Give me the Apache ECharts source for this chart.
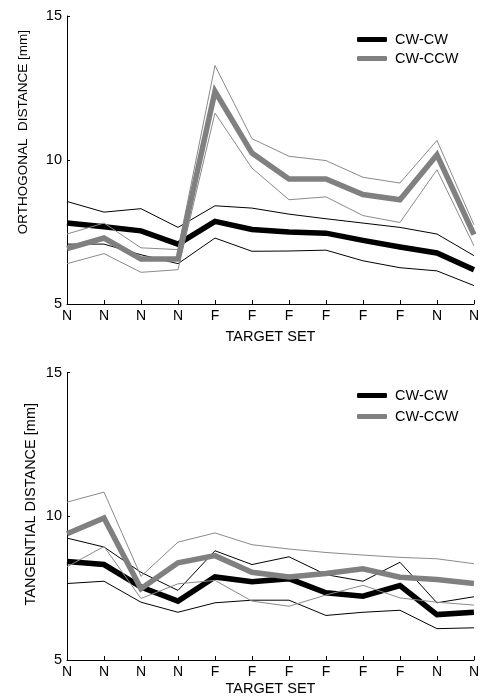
<!DOCTYPE html>
<html><head><meta charset="utf-8">
<script src="https://cdn.jsdelivr.net/npm/echarts@6/dist/echarts.min.js"></script>
<style>html,body{margin:0;padding:0;background:#fff}#c{width:482px;height:697px}</style>
</head><body><div id="c"></div>
<script>
const targetSet = ['N','N','N','N','F','F','F','F','F','F','N','N'];
const yTicks = [5, 10, 15];
const seriesNames = ['CW-CW', 'CW-CCW'];

const orthCwCwMean   = [7.81,7.68,7.54,7.08,7.87,7.59,7.50,7.46,7.21,6.98,6.77,6.19];
const orthCwCwUpper  = [8.56,8.19,8.31,7.66,8.41,8.33,8.12,7.96,7.81,7.66,7.43,6.68];
const orthCwCwLower  = [7.08,7.08,6.71,6.40,7.29,6.83,6.84,6.87,6.50,6.26,6.15,5.64];
const orthCwCcwMean  = [6.92,7.29,6.56,6.56,12.38,10.24,9.34,9.34,8.80,8.62,10.18,7.41];
const orthCwCcwUpper = [7.43,7.81,6.95,6.89,13.28,10.74,10.13,9.98,9.40,9.20,10.68,7.75];
const orthCwCcwLower = [6.40,6.75,6.10,6.19,11.63,9.72,8.62,8.72,8.07,7.83,9.66,7.02];

const tangCwCwMean   = [8.43,8.32,7.54,7.05,7.89,7.72,7.83,7.34,7.22,7.59,6.58,6.66];
const tangCwCwUpper  = [9.24,8.93,8.05,7.42,8.80,8.32,8.59,7.97,7.74,8.40,6.99,7.20];
const tangCwCwLower  = [7.66,7.74,7.01,6.66,6.99,7.08,7.08,6.55,6.66,6.73,6.09,6.12];
const tangCwCcwMean  = [9.39,9.94,7.48,8.38,8.63,8.05,7.89,8.01,8.17,7.88,7.80,7.66];
const tangCwCcwUpper = [10.49,10.84,7.91,9.10,9.42,9.01,8.86,8.74,8.65,8.57,8.52,8.35];
const tangCwCcwLower = [8.24,8.95,7.14,7.65,7.77,7.05,6.87,7.26,7.60,7.16,7.01,6.91];

const FONT = 'Liberation Sans, Arial, sans-serif';
const BLACK = '#000000';
const GREY = '#808080';
const GREY_THIN = '#8a8a8a';

function pts(arr){ return arr.map((v,i)=>[i,v]); }

function xAxis(gi, nameGap){
  return {
    type:'value', gridIndex:gi, min:0, max:targetSet.length-1, interval:1,
    axisLine:{show:true, lineStyle:{color:'#000', width:1}},
    axisTick:{show:true, inside:true, length:4, lineStyle:{color:'#000'}},
    axisLabel:{color:'#000', fontFamily:FONT, fontSize:14, margin:5,
      formatter:(v)=>targetSet[Math.round(v)] || ''},
    splitLine:{show:false},
    name:'TARGET SET', nameLocation:'middle', nameGap:nameGap,
    nameTextStyle:{color:'#000', fontFamily:FONT, fontSize:14.5}
  };
}
function yAxis(gi){
  return {
    type:'value', gridIndex:gi, min:yTicks[0], max:yTicks[yTicks.length-1], interval:5,
    axisLine:{show:true, lineStyle:{color:'#000', width:1}},
    axisTick:{show:true, inside:true, length:3, lineStyle:{color:'#000'}},
    axisLabel:{color:'#000', fontFamily:FONT, fontSize:14.5, margin:5},
    splitLine:{show:false}
  };
}
function line(name, data, gi, color, width, z){
  return {
    type:'line', name:name, xAxisIndex:gi, yAxisIndex:gi, data:pts(data),
    symbol:'none', silent:true, animation:false, z:z,
    lineStyle:{color:color, width:width, join:'miter'},
    itemStyle:{color:color}
  };
}

const chart = echarts.init(document.getElementById('c'), null, {renderer:'canvas'});
chart.setOption({
  backgroundColor:'#fff',
  animation:false,
  grid:[
    {left:67, right:5, top:16, height:288},
    {left:67, right:5, top:372.5, height:288}
  ],
  xAxis:[xAxis(0, 25), xAxis(1, 21)],
  yAxis:[yAxis(0), yAxis(1)],
  legend:[
    {data:seriesNames, orient:'vertical', left:352, top:27, itemWidth:30, itemHeight:5, itemGap:4,
     icon:'roundRect', selectedMode:false,
     textStyle:{color:'#000', fontFamily:FONT, fontSize:14.5, padding:[0,0,0,3]}},
    {data:seriesNames, orient:'vertical', left:352, top:383, itemWidth:30, itemHeight:5, itemGap:6,
     icon:'roundRect', selectedMode:false,
     textStyle:{color:'#000', fontFamily:FONT, fontSize:14.5, padding:[0,0,0,3]}}
  ],
  graphic:[
    {type:'text', left:16, top:30, rotation:Math.PI/2, z:10,
     style:{text:'ORTHOGONAL  DISTANCE [mm]', fill:'#000', font:'13.5px ' + FONT}},
    {type:'text', left:23, top:403, rotation:Math.PI/2, z:10,
     style:{text:'TANGENTIAL DISTANCE [mm]', fill:'#000', font:'14.5px ' + FONT}}
  ],
  series:[
    line('CW-CW upper', orthCwCwUpper, 0, BLACK, 1, 2),
    line('CW-CW lower', orthCwCwLower, 0, BLACK, 1, 2),
    line('CW-CW', orthCwCwMean, 0, BLACK, 5.5, 3),
    line('CW-CCW upper', orthCwCcwUpper, 0, GREY_THIN, 1, 4),
    line('CW-CCW lower', orthCwCcwLower, 0, GREY_THIN, 1, 4),
    line('CW-CCW', orthCwCcwMean, 0, GREY, 5.5, 5),

    line('CW-CW upper', tangCwCwUpper, 1, BLACK, 1, 2),
    line('CW-CW lower', tangCwCwLower, 1, BLACK, 1, 2),
    line('CW-CW', tangCwCwMean, 1, BLACK, 5.5, 3),
    line('CW-CCW upper', tangCwCcwUpper, 1, GREY_THIN, 1, 4),
    line('CW-CCW lower', tangCwCcwLower, 1, GREY_THIN, 1, 4),
    line('CW-CCW', tangCwCcwMean, 1, GREY, 5.5, 5)
  ]
});
</script></body></html>
